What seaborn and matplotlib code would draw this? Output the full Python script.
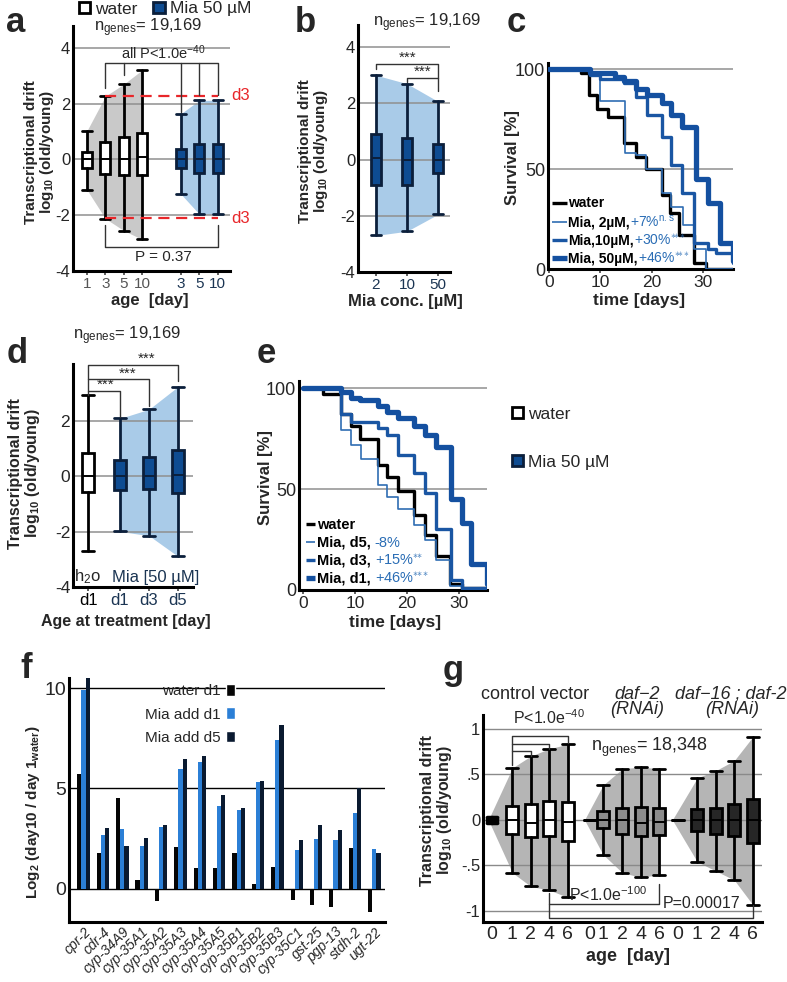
import numpy as np
import pandas as pd
import matplotlib
matplotlib.use("Agg")
import matplotlib.pyplot as plt
import seaborn as sns
from matplotlib.patches import Patch
from matplotlib.lines import Line2D
from matplotlib.offsetbox import TextArea, HPacker, VPacker, AnchoredOffsetbox, DrawingArea

sns.set_theme(style="white")
plt.rcParams["font.family"] = ["Liberation Sans", "DejaVu Sans"]
plt.rcParams["axes.unicode_minus"] = False
plt.rcParams["mathtext.fontset"] = "custom"
plt.rcParams["mathtext.rm"] = "Liberation Sans"
plt.rcParams["mathtext.it"] = "Liberation Sans:italic"
plt.rcParams["mathtext.bf"] = "Liberation Sans:bold"
plt.rcParams["mathtext.default"] = "rm"

# ---------------- data ----------------
# panel a
a_water_labels = ["1", "3", "5", "10"]
a_water_lo = [-1.09, -2.12, -2.55, -2.87]
a_water_q1 = [-0.30, -0.51, -0.55, -0.57]
a_water_med = [0.0, 0.0, 0.03, 0.08]
a_water_q3 = [0.28, 0.64, 0.80, 0.95]
a_water_hi = [1.03, 2.27, 2.70, 3.21]
a_mia_labels = ["3", "5", "10"]
a_mia_lo = [-1.24, -1.96, -1.96]
a_mia_q1 = [-0.30, -0.48, -0.48]
a_mia_med = [0.03, 0.0, 0.0]
a_mia_q3 = [0.36, 0.55, 0.57]
a_mia_hi = [1.64, 2.12, 2.12]

# panel b
b_labels = ["2", "10", "50"]
b_lo = [-2.7, -2.55, -1.95]
b_q1 = [-0.9, -0.9, -0.48]
b_med = [0.05, 0.0, 0.0]
b_q3 = [0.9, 0.78, 0.56]
b_hi = [3.0, 2.7, 2.07]

# panel c (survival, %)
c_water_t = [0, 6.3, 7.8, 9.3, 11.5, 14.5, 17, 18.8, 21.9, 23.5, 25.2, 28.3, 30.6, 35.8]
c_water_s = [100, 98, 87, 80, 76, 63, 56, 50, 37, 28, 17, 3, 0, 0]
c_mia2_t = [0, 8, 10, 14.7, 17, 18.8, 21.9, 23.8, 26, 28.3, 30.6, 35.8]
c_mia2_s = [100, 97, 84, 58, 57, 50, 38, 31, 22, 10, 0, 0]
c_mia10_t = [0, 8, 10, 14.6, 17, 19, 22, 23.8, 25.8, 28.3, 30.9, 32.5, 35.8]
c_mia10_s = [100, 97, 95, 93, 86, 77, 66, 52, 38, 13, 10, 8, 3]
c_mia50_t = [0, 8, 12.8, 14.6, 17, 19, 21.9, 23.8, 25.8, 28.6, 31, 33.2, 35.8]
c_mia50_s = [100, 98, 96, 94, 90, 87, 83, 77, 71, 45, 33, 13, 4]

# panel d
d_labels = ["d1", "d1", "d3", "d5"]
d_lo = [-2.71, -1.99, -2.14, -2.89]
d_q1 = [-0.58, -0.48, -0.46, -0.60]
d_med = [0.0, 0.0, 0.0, 0.05]
d_q3 = [0.84, 0.58, 0.72, 0.94]
d_hi = [2.95, 2.10, 2.43, 3.25]

# panel e (survival, %)
e_water_t = [0, 3.9, 7.3, 9.2, 11, 14.4, 16.2, 18.3, 21.4, 23.5, 25.5, 28.3, 30.5, 35.4]
e_water_s = [100, 97, 87, 81, 75, 62, 56, 49, 37, 27, 17, 3, 1, 0]
e_d5_t = [0, 7.3, 9.2, 11.2, 14.4, 16.2, 18.3, 21.4, 23.5, 25.5, 28.3, 30.5, 35.4]
e_d5_s = [100, 79, 72, 65, 52, 46, 40, 32, 25, 15, 2, 0, 0]
e_d3_t = [0, 7.3, 9.2, 14.4, 16.2, 18.3, 21.4, 23.5, 25.5, 28.5, 30.5, 35.4]
e_d3_s = [100, 87, 83, 80, 77, 67, 58, 48, 30, 5, 1, 0]
e_d1_t = [0, 7.3, 9.2, 11, 14.4, 16.2, 18.3, 21.4, 23.5, 25.5, 28.5, 30.5, 32.4, 35.4]
e_d1_s = [100, 98, 95, 94, 91, 88, 85, 81, 77, 71, 45, 33, 13, 3]

# panel f
f_genes = ["cpr-2", "cdr-4", "cyp-34A9", "cyp-35A1", "cyp-35A2", "cyp-35A3", "cyp-35A4",
           "cyp-35A5", "cyp-35B1", "cyp-35B2", "cyp-35B3", "cyp-35C1", "gst-25", "pgp-13",
           "stdh-2", "ugt-22"]
f_water_d1 = [5.7, 1.8, 4.5, 0.45, -0.62, 2.1, 1.02, 1.02, 1.77, 0.22, 1.08, -0.55, -0.8, -0.92, 2.05, -1.15]
f_mia_d1 = [9.88, 2.7, 2.97, 2.15, 3.1, 5.95, 6.3, 4.12, 3.92, 5.33, 7.42, 1.92, 2.5, 2.42, 3.8, 2.0]
f_mia_d5 = [10.48, 3.02, 2.15, 2.52, 3.2, 6.48, 6.62, 4.65, 4.03, 5.36, 8.15, 2.42, 3.18, 2.92, 5.0, 1.8]

# panel g
g_labels = ["0", "1", "2", "4", "6"]
g_ctrl_lo = [-0.03, -0.58, -0.73, -0.77, -0.85]
g_ctrl_q1 = [-0.02, -0.15, -0.19, -0.18, -0.23]
g_ctrl_med = [0.0, 0.0, -0.03, 0.0, -0.02]
g_ctrl_q3 = [0.02, 0.15, 0.17, 0.21, 0.20]
g_ctrl_hi = [0.03, 0.57, 0.70, 0.78, 0.83]
g_daf2_lo = [0.0, -0.38, -0.58, -0.63, -0.60]
g_daf2_q1 = [0.0, -0.09, -0.16, -0.18, -0.17]
g_daf2_med = [0.0, 0.0, 0.0, -0.03, -0.02]
g_daf2_q3 = [0.0, 0.10, 0.13, 0.14, 0.13]
g_daf2_hi = [0.0, 0.38, 0.56, 0.58, 0.56]
g_daf16_lo = [0.0, -0.46, -0.56, -0.66, -0.93]
g_daf16_q1 = [0.0, -0.12, -0.15, -0.18, -0.25]
g_daf16_med = [0.0, 0.0, 0.0, 0.0, 0.0]
g_daf16_q3 = [0.0, 0.12, 0.13, 0.17, 0.23]
g_daf16_hi = [0.0, 0.46, 0.54, 0.65, 0.91]

# ---------------- styling ----------------
W, H = 787, 982
fig = plt.figure(figsize=(W / 100, H / 100), dpi=100)

MIA_FACE = "#0e4c92"
MIA_EDGE = "#0b1f3b"
BLUE_FILL = "#a9cbe8"
GRAY_FILL = "#c9c9c9"
GRID = "#8f8f8f"
TXT_BLUE = "#2a6db5"
TICK_DARK = "#1b3553"
YLAB = "Transcriptional drift\nlog$_{\\mathbf{10}}$ (old/young)"
STARS3 = "$^{\\ast\\!\\!\\ast\\!\\!\\ast}$"
STARS2 = "$^{\\ast\\!\\!\\ast}$"


def add_ax(l, r, t, b):
    return fig.add_axes([l / W, 1 - b / H, (r - l) / W, (b - t) / H])


def style(ax, ytick_size=11, xtick_size=11):
    sns.despine(ax=ax)
    for s in ["left", "bottom"]:
        ax.spines[s].set_linewidth(2.2)
        ax.spines[s].set_color("black")
    ax.tick_params(axis="x", length=3, width=1.2, color="#444", labelsize=xtick_size, pad=1, bottom=True)
    ax.tick_params(axis="y", length=0, labelsize=ytick_size, pad=2, left=True)
    ax.set_facecolor("none")


def hgrid(ax, ys, color=GRID, lw=1.1):
    for y in ys:
        ax.axhline(y, color=color, lw=lw, zorder=1)


def boxes(ax, pos, lo, q1, med, q3, hi, face, edge, width, lw=2.0):
    stats = [dict(whislo=a, q1=b, med=c, q3=d, whishi=e, fliers=[])
             for a, b, c, d, e in zip(lo, q1, med, q3, hi)]
    ax.bxp(stats, positions=pos, widths=width, capwidths=width, patch_artist=True,
           showfliers=False, manage_ticks=False,
           boxprops=dict(facecolor=face, edgecolor=edge, lw=lw, zorder=3),
           whiskerprops=dict(color=edge, lw=lw, zorder=3),
           capprops=dict(color=edge, lw=lw, zorder=3),
           medianprops=dict(color=edge, lw=1.4, zorder=4))


def bracket(ax, pts, color="#333", lw=1.0):
    xs, ys = zip(*pts)
    ax.plot(xs, ys, color=color, lw=lw, clip_on=False, zorder=5)


def letter(x, y, s):
    fig.text(x / W, 1 - y / H, s, fontsize=25, fontweight="bold", va="baseline", ha="left")


def surv_legend(ax, entries, x, y, fs=10, sep=1.5, linelen=11):
    rows = []
    for black, blue, color, lw in entries:
        da = DrawingArea(linelen + 1, 8, 0, 0)
        da.add_artist(Line2D([0, linelen], [3.5, 3.5], color=color, lw=lw, solid_capstyle="butt"))
        t1 = TextArea(black, textprops=dict(color="black", fontsize=fs, fontweight="bold"))
        children = [da, t1]
        if blue:
            children.append(TextArea(blue, textprops=dict(color=TXT_BLUE, fontsize=fs)))
        rows.append(HPacker(children=children, align="baseline", pad=0, sep=0))
    vp = VPacker(children=rows, align="left", pad=0, sep=sep)
    ab = AnchoredOffsetbox(loc="lower left", child=vp, frameon=False, pad=0, borderpad=0,
                           bbox_to_anchor=(x, y), bbox_transform=ax.transAxes)
    ab.set_zorder(6)
    ax.add_artist(ab)


# ================= panel a =================
ax = add_ax(73, 230, 25.6, 271)
style(ax, ytick_size=12, xtick_size=11)
pw = [0, 1, 2, 3]
pm = [5.1, 6.1, 7.1]
ax.fill_between(pw, a_water_lo, a_water_hi, color=GRAY_FILL, lw=0, zorder=0.5)
ax.fill_between(pm, a_mia_lo, a_mia_hi, color=BLUE_FILL, lw=0, zorder=0.5)
hgrid(ax, [-2, 0, 2, 4])
boxes(ax, pw, a_water_lo, a_water_q1, a_water_med, a_water_q3, a_water_hi, "white", "black", 0.55)
boxes(ax, pm, a_mia_lo, a_mia_q1, a_mia_med, a_mia_q3, a_mia_hi, MIA_FACE, MIA_EDGE, 0.55)
ax.set_xlim(-0.76, 7.77)
ax.set_ylim(-4, 4.8)
ax.set_yticks([-4, -2, 0, 2, 4])
ax.set_xticks(pw + pm)
ax.set_xticklabels(a_water_labels + a_mia_labels)
for i, t in enumerate(ax.get_xticklabels()):
    t.set_color("#555555" if i < 4 else TICK_DARK)
ax.plot([1, 7.1], [2.28, 2.28], color="#e8262a", lw=1.6, ls=(0, (5, 3)), zorder=4)
ax.plot([1, 7.1], [-2.1, -2.1], color="#e8262a", lw=1.6, ls=(0, (5, 3)), zorder=4)
ax.text(7.85, 2.28, "d3", color="#e8262a", fontsize=12, va="center", ha="left", clip_on=False)
ax.text(7.85, -2.1, "d3", color="#e8262a", fontsize=12, va="center", ha="left", clip_on=False)
bracket(ax, [(1, 2.55), (1, 3.45), (7.1, 3.45), (7.1, 2.3)])
bracket(ax, [(2, 3.45), (2, 3.03)])
bracket(ax, [(5.1, 3.45), (5.1, 1.7)])
bracket(ax, [(6.1, 3.45), (6.1, 2.3)])
ax.text(4.13, 3.5, "all P<1.0e$^{-40}$", fontsize=10.5, ha="center", va="bottom")
bracket(ax, [(1, -2.34), (1, -3.15), (7.1, -3.15), (7.1, -2.34)])
ax.text(4.13, -3.5, "P = 0.37", fontsize=11, ha="center", va="center")
ax.text(3.3, 4.71, "n$_{\\mathrm{genes}}$= 19,169", fontsize=12, ha="center", va="center", clip_on=False)
ax.set_ylabel(YLAB, fontsize=11, fontweight="bold", linespacing=1.0)
ax.yaxis.set_label_coords(-0.11, 0.485)
ax.set_xlabel("age  [day]", fontsize=12, fontweight="bold")
ax.xaxis.set_label_coords(0.49, -0.088)
letter(6, 32, "a")
fig.legend(handles=[Patch(facecolor="white", edgecolor="black", lw=2),
                    Patch(facecolor=MIA_FACE, edgecolor=MIA_EDGE, lw=2)],
           labels=["water", "Mia 50 µM"], ncol=2, frameon=False, fontsize=12.5,
           handlelength=0.65, handleheight=0.65, handletextpad=0.3, columnspacing=0.9,
           loc="center", bbox_to_anchor=(165 / W, 1 - 9 / H), borderpad=0)

# ================= panel b =================
ax = add_ax(358, 450, 24.6, 272)
style(ax, ytick_size=12, xtick_size=11)
pb = [0, 1, 2]
ax.fill_between(pb, b_lo, b_hi, color=BLUE_FILL, lw=0, zorder=0.5)
hgrid(ax, [-2, 0, 2, 4])
boxes(ax, pb, b_lo, b_q1, b_med, b_q3, b_hi, MIA_FACE, MIA_EDGE, 0.33)
ax.set_xlim(-0.58, 2.39)
ax.set_ylim(-4, 4.8)
ax.set_yticks([-4, -2, 0, 2, 4])
ax.set_xticks(pb)
ax.set_xticklabels(b_labels)
for t in ax.get_xticklabels():
    t.set_color(TICK_DARK)
bracket(ax, [(0, 3.23), (0, 3.41), (2, 3.41), (2, 2.45)])
bracket(ax, [(1, 2.75), (1, 2.91), (2, 2.91)])
ax.text(1.03, 3.38, "***", fontsize=11, ha="center", va="bottom")
ax.text(1.52, 2.88, "***", fontsize=11, ha="center", va="bottom")
ax.text(1.65, 4.87, "n$_{\\mathrm{genes}}$= 19,169", fontsize=12, ha="center", va="center", clip_on=False)
ax.set_ylabel(YLAB, fontsize=11, fontweight="bold", linespacing=1.0)
ax.yaxis.set_label_coords(-0.3, 0.49)
ax.set_xlabel("Mia conc. [µM]", fontsize=12, fontweight="bold")
ax.xaxis.set_label_coords(0.51, -0.088)
letter(295, 32, "b")

# ================= panel c =================
ax = add_ax(548, 733, 63, 269)
style(ax, ytick_size=13, xtick_size=12.5)
hgrid(ax, [50, 100])
sns.lineplot(x=c_water_t, y=c_water_s, drawstyle="steps-post", color="black", lw=2.4, estimator=None, sort=False, ax=ax, zorder=3)
sns.lineplot(x=c_mia2_t, y=c_mia2_s, drawstyle="steps-post", color="#2f6db3", lw=1.2, estimator=None, sort=False, ax=ax, zorder=3)
sns.lineplot(x=c_mia10_t, y=c_mia10_s, drawstyle="steps-post", color="#1a56a3", lw=2.4, estimator=None, sort=False, ax=ax, zorder=3)
sns.lineplot(x=c_mia50_t, y=c_mia50_s, drawstyle="steps-post", color="#1450a0", lw=3.8, estimator=None, sort=False, ax=ax, zorder=3)
ax.set_xlim(-0.2, 35.8)
ax.set_ylim(0, 103)
ax.set_xticks([0, 10, 20, 30])
ax.set_yticks([0, 50, 100])
ax.set_ylabel("Survival [%]", fontsize=12, fontweight="bold")
ax.yaxis.set_label_coords(-0.15, 0.54)
ax.set_xlabel("time [days]", fontsize=12.5, fontweight="bold")
ax.xaxis.set_label_coords(0.49, -0.115)
surv_legend(ax, [("water", "", "black", 2.4),
                 ("Mia, 2µM,", "+7%$^{\\rm n.s}$", "#2f6db3", 1.2),
                 ("Mia,10µM,", "+30%" + STARS3, "#1a56a3", 2.4),
                 ("Mia, 50µM,", "+46%" + STARS3, "#1450a0", 3.8)],
            0.02, 0.015, fs=10, sep=2.5)
letter(507, 32, "c")

# ================= panel d =================
ax = add_ax(73, 193, 364, 587)
style(ax, ytick_size=12.5, xtick_size=12)
pd_ = [0, 1.1, 2.1, 3.1]
ax.fill_between(pd_[1:], d_lo[1:], d_hi[1:], color=BLUE_FILL, lw=0, zorder=0.5)
hgrid(ax, [-2, 0, 2])
boxes(ax, pd_[:1], d_lo[:1], d_q1[:1], d_med[:1], d_q3[:1], d_hi[:1], "white", "black", 0.4)
boxes(ax, pd_[1:], d_lo[1:], d_q1[1:], d_med[1:], d_q3[1:], d_hi[1:], MIA_FACE, MIA_EDGE, 0.4)
ax.set_xlim(-0.52, 3.62)
ax.set_ylim(-4, 4.07)
ax.set_yticks([-4, -2, 0, 2])
ax.set_xticks(pd_)
ax.set_xticklabels(d_labels)
for i, t in enumerate(ax.get_xticklabels()):
    t.set_color("black" if i == 0 else TICK_DARK)
bracket(ax, [(0, 2.95), (0, 4.04), (3.1, 4.04), (3.1, 3.45)])
bracket(ax, [(0, 3.52), (2.1, 3.52), (2.1, 2.55)])
bracket(ax, [(0, 3.11), (1.1, 3.11), (1.1, 2.17)])
ax.text(2.03, 4.0, "***", fontsize=11, ha="center", va="bottom", clip_on=False)
ax.text(1.38, 3.48, "***", fontsize=11, ha="center", va="bottom")
ax.text(0.62, 3.07, "***", fontsize=11, ha="center", va="bottom")
ax.text(1.34, 5.09, "n$_{\\mathrm{genes}}$= 19,169", fontsize=12, ha="center", va="center", clip_on=False)
ax.text(-0.47, -3.64, "h$_2$o", fontsize=12, ha="left", va="center")
ax.text(0.83, -3.64, "Mia [50 µM]", fontsize=12, ha="left", va="center", color=TICK_DARK)
ax.set_ylabel(YLAB, fontsize=11.5, fontweight="bold", linespacing=1.0)
ax.yaxis.set_label_coords(-0.26, 0.51)
ax.set_xlabel("Age at treatment [day]", fontsize=11.5, fontweight="bold")
ax.xaxis.set_label_coords(0.44, -0.12)
letter(7, 363, "d")

# ================= panel e =================
ax = add_ax(299, 487, 381, 590)
style(ax, ytick_size=13, xtick_size=12.5)
hgrid(ax, [50, 100])
sns.lineplot(x=e_water_t, y=e_water_s, drawstyle="steps-post", color="black", lw=2.4, estimator=None, sort=False, ax=ax, zorder=3)
sns.lineplot(x=e_d5_t, y=e_d5_s, drawstyle="steps-post", color="#2f6db3", lw=1.2, estimator=None, sort=False, ax=ax, zorder=3)
sns.lineplot(x=e_d3_t, y=e_d3_s, drawstyle="steps-post", color="#1a56a3", lw=2.4, estimator=None, sort=False, ax=ax, zorder=3)
sns.lineplot(x=e_d1_t, y=e_d1_s, drawstyle="steps-post", color="#1450a0", lw=3.8, estimator=None, sort=False, ax=ax, zorder=3)
ax.set_xlim(-0.8, 35.4)
ax.set_ylim(0, 103.5)
ax.set_xticks([0, 10, 20, 30])
ax.set_yticks([0, 50, 100])
ax.set_ylabel("Survival [%]", fontsize=12, fontweight="bold")
ax.yaxis.set_label_coords(-0.14, 0.54)
ax.set_xlabel("time [days]", fontsize=12.5, fontweight="bold")
ax.xaxis.set_label_coords(0.51, -0.12)
surv_legend(ax, [("water", "", "black", 2.4),
                 ("Mia, d5, ", "-8%", "#2f6db3", 1.2),
                 ("Mia, d3, ", "+15%" + STARS2, "#1a56a3", 2.4),
                 ("Mia, d1, ", "+46%" + STARS3, "#1450a0", 3.8)],
            0.035, 0.02, fs=10.5, sep=2.5, linelen=7)
letter(257, 363, "e")
fig.legend(handles=[Patch(facecolor="white", edgecolor="black", lw=2),
                    Patch(facecolor=MIA_FACE, edgecolor=MIA_EDGE, lw=2)],
           labels=["water", "Mia 50 µM"], ncol=1, frameon=False, fontsize=12.5,
           handlelength=0.65, handleheight=0.65, handletextpad=0.3, labelspacing=1.9,
           loc="upper left", bbox_to_anchor=(503 / W, 1 - 398 / H), borderpad=0)

# ================= panel f =================
ax = add_ax(69, 385, 678, 922)
style(ax, ytick_size=14, xtick_size=10)
df = pd.DataFrame({
    "gene": f_genes * 3,
    "value": f_water_d1 + f_mia_d1 + f_mia_d5,
    "cond": ["water d1"] * 16 + ["Mia add d1"] * 16 + ["Mia add d5"] * 16,
})
hgrid(ax, [0, 5, 10], color="black", lw=1.0)
sns.barplot(data=df, x="gene", y="value", hue="cond", order=f_genes,
            hue_order=["water d1", "Mia add d1", "Mia add d5"],
            palette=["#050505", "#2b7fd6", "#0a1a30"], saturation=1, width=0.64,
            gap=0, legend=False, ax=ax, zorder=3, linewidth=0, edgecolor="none")
ax.set_xlim(-0.75, 15.55)
ax.set_ylim(-1.65, 10.5)
ax.set_yticks([0, 5, 10])
ax.tick_params(axis="x", length=0, pad=2)
ax.set_xticks(range(16))
ax.set_xticklabels(f_genes, rotation=45, ha="right", rotation_mode="anchor", style="italic")
ax.set_xlabel("")
ax.set_ylabel("Log$_{\\mathbf{2}}$ (day10 / day 1$_{\\mathbf{water}}$)", fontsize=11, fontweight="bold")
ax.yaxis.set_label_coords(-0.085, 0.45)
ax.legend(handles=[Patch(facecolor="#050505"), Patch(facecolor="#2b7fd6"), Patch(facecolor="#0a1a30")],
          labels=["water d1", "Mia add d1", "Mia add d5"], markerfirst=False, frameon=False,
          fontsize=11, handlelength=0.6, handleheight=0.8, handletextpad=0.35, labelspacing=0.6,
          loc="upper right", bbox_to_anchor=(0.525, 0.975), borderaxespad=0, borderpad=0)
letter(20, 678, "f")

# ================= panel g =================
ax = add_ax(483, 762, 715, 922)
style(ax, ytick_size=12, xtick_size=14)
pc = [0, 1.1, 2.1, 3.1, 4.1]
p2 = [5.3, 6.0, 7.05, 8.05, 9.05]
p16 = [10.05, 11.1, 12.1, 13.1, 14.1]
GF = "#b5b5b5"
ax.fill_between([pc[0] - 0.2] + pc[1:], [0] + g_ctrl_lo[1:], [0] + g_ctrl_hi[1:], color=GF, lw=0, zorder=0.5)
ax.fill_between([p2[0] - 0.3] + p2[1:], [0] + g_daf2_lo[1:], [0] + g_daf2_hi[1:], color=GF, lw=0, zorder=0.5)
ax.fill_between([p16[0] - 0.3] + p16[1:], [0] + g_daf16_lo[1:], [0] + g_daf16_hi[1:], color=GF, lw=0, zorder=0.5)
hgrid(ax, [-1, -0.5, 0, 0.5, 1], color="#8a8a8a", lw=1.0)
boxes(ax, pc[:1], g_ctrl_lo[:1], g_ctrl_q1[:1], g_ctrl_med[:1], g_ctrl_q3[:1], g_ctrl_hi[:1], "#222222", "black", 0.5, lw=2.5)
boxes(ax, pc[1:], g_ctrl_lo[1:], g_ctrl_q1[1:], g_ctrl_med[1:], g_ctrl_q3[1:], g_ctrl_hi[1:], "white", "black", 0.65)
boxes(ax, p2, g_daf2_lo, g_daf2_q1, g_daf2_med, g_daf2_q3, g_daf2_hi, "#8c8c8c", "black", 0.65)
boxes(ax, p16, g_daf16_lo, g_daf16_q1, g_daf16_med, g_daf16_q3, g_daf16_hi, "#262626", "black", 0.65)
ax.set_xlim(-0.49, 14.6)
ax.set_ylim(-1.12, 1.15)
ax.set_yticks([-1, -0.5, 0, 0.5, 1])
ax.set_yticklabels(["-1", "-.5", "0", ".5", "1"])
ax.set_xticks(pc + p2 + p16)
ax.set_xticklabels(g_labels * 3)
ax.tick_params(axis="x", length=0, pad=3)
# brackets
bracket(ax, [(1.1, 0.6), (1.1, 0.916), (4.1, 0.916), (4.1, 0.84)])
bracket(ax, [(1.1, 0.83), (3.1, 0.83), (3.1, 0.78)])
bracket(ax, [(1.1, 0.75), (2.1, 0.75), (2.1, 0.70)])
ax.text(3.08, 1.12, "P<1.0e$^{-40}$", fontsize=11.5, ha="center", va="center")
bracket(ax, [(3.1, -0.80), (3.1, -1.08), (14.1, -1.08), (14.1, -0.93)])
bracket(ax, [(3.1, -0.92), (9.05, -0.92), (9.05, -0.70)])
ax.text(6.27, -0.82, "P<1.0e$^{-100}$", fontsize=11.5, ha="center", va="center", zorder=6)
ax.text(11.35, -0.915, "P=0.00017", fontsize=11.5, ha="center", va="center", zorder=6)
ax.text(8.5, 0.79, "n$_{\\mathrm{genes}}$= 18,348", fontsize=13, ha="center", va="center")
ax.text(2.3, 1.38, "control vector", fontsize=13, ha="center", va="center", clip_on=False)
ax.text(7.84, 1.38, "daf−2", fontsize=13, ha="center", va="center", style="italic", clip_on=False)
ax.text(7.84, 1.21, "(RNAi)", fontsize=13, ha="center", va="center", style="italic", clip_on=False)
ax.text(9.9, 1.38, "daf−16 ; daf-2", fontsize=13, ha="left", va="center", style="italic", clip_on=False)
ax.text(12.97, 1.21, "(RNAi)", fontsize=13, ha="center", va="center", style="italic", clip_on=False)
ax.set_ylabel(YLAB, fontsize=11.5, fontweight="bold", linespacing=1.0)
ax.yaxis.set_label_coords(-0.105, 0.54)
ax.set_xlabel("age  [day]", fontsize=13, fontweight="bold")
ax.xaxis.set_label_coords(0.52, -0.125)
letter(443, 680, "g")

fig.savefig("out.png", dpi=100)
